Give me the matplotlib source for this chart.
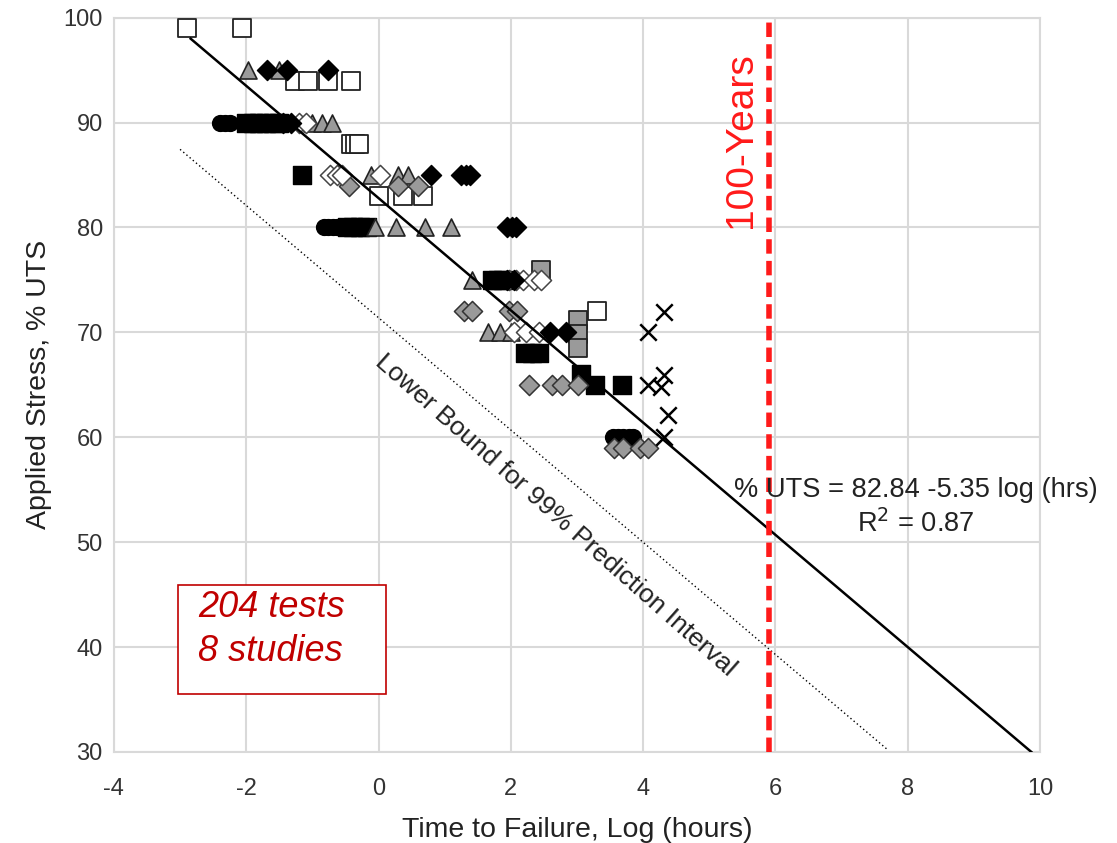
from matplotlib import pyplot as plt
from matplotlib.patches import Rectangle

plt.rcParams['font.family'] = ['Liberation Sans', 'DejaVu Sans']
plt.rcParams['axes.unicode_minus'] = False

# ---- data ----
# open squares
osq_x = [-2.89, -2.07, -1.26, -1.07, -0.76, -0.42, -0.41, -0.35, -0.29, 0.0, 0.37, 0.67, 3.31]
osq_y = [99, 99, 94, 94, 94, 94, 88, 88, 88, 83, 83, 83, 72]
# gray triangles
tri_x = [-1.98, -1.51, -1.00, -0.85, -0.70, -0.12, 0.29, 0.45, -0.05, 0.26, 0.71, 1.09, 1.41, 1.66, 1.83, 2.0]
tri_y = [95, 95, 90, 90, 90, 85, 85, 85, 80, 80, 80, 80, 75, 70, 70, 70]
# black diamonds
bd_x = [-1.68, -1.38, -0.77, -1.45, -1.32, 0.80, 1.25, 1.32, 1.39, 1.95, 2.02, 2.08, 1.95, 2.05, 2.60, 2.83]
bd_y = [95, 95, 95, 90, 90, 85, 85, 85, 85, 80, 80, 80, 75, 75, 70, 70]
# black circles
bc_x = [-2.40, -2.32, -2.25, -0.83, -0.76, -0.69, -0.62, -0.55, 3.55, 3.62, 3.70, 3.78, 3.85]
bc_y = [90, 90, 90, 80, 80, 80, 80, 80, 60, 60, 60, 60, 60]
# black squares
bsq_x = [-2.0, -1.9, -1.8, -1.7, -1.6, -1.5, -1.15, -0.48, -0.38, -0.28, -0.18, 1.72, 1.80, 1.88,
         2.22, 2.32, 2.43, 3.06, 3.28, 3.68]
bsq_y = [90, 90, 90, 90, 90, 90, 85, 80, 80, 80, 80, 75, 75, 75, 68, 68, 68, 66, 65, 65]
# gray diamonds
gd_x = [-0.45, 0.30, 0.60, 1.30, 1.42, 1.98, 2.10, 2.27, 2.63, 2.78, 3.01, 3.56, 3.69, 3.96, 4.07]
gd_y = [84, 84, 84, 72, 72, 72, 72, 65, 65, 65, 65, 59, 59, 59, 59]
# open diamonds
od_x = [-1.20, -1.10, -0.73, -0.63, -0.55, 0.03, 1.98, 2.08, 2.18, 2.35, 2.45, 2.05, 2.23, 2.42]
od_y = [90, 90, 85, 85, 85, 85, 75, 75, 75, 75, 75, 70, 70, 70]
# gray squares
gsq_x = [2.45, 3.01, 3.01, 3.01]
gsq_y = [75.9, 71.2, 69.8, 68.5]
# crosses
cx_x = [4.31, 4.08, 4.31, 4.07, 4.27, 4.37, 4.31]
cx_y = [71.9, 70.0, 65.9, 65.0, 64.8, 62.1, 60.0]

# regression line and 99% lower bound (end points)
fit_x = [-2.84, 9.87]
fit_y = [98.0, 30.0]
low_x = [-3.0, 7.7]
low_y = [87.45, 30.2]
years100 = 5.9

fig = plt.figure(figsize=(11.17, 8.43), dpi=100)
ax = fig.add_axes([0.102, 0.108, 0.829, 0.871])

gray = '#9a9a9a'
ms = 160
ax.scatter(osq_x, osq_y, marker='s', s=ms, facecolor='white', edgecolor='#222222', linewidth=1.3, zorder=3)
ax.scatter(gsq_x, gsq_y, marker='s', s=ms, facecolor=gray, edgecolor='#222222', linewidth=1.3, zorder=3)
ax.scatter(bsq_x, bsq_y, marker='s', s=ms, facecolor='black', edgecolor='black', zorder=3)
ax.scatter(bc_x, bc_y, marker='o', s=130, facecolor='black', edgecolor='black', zorder=3)
ax.scatter(tri_x, tri_y, marker='^', s=150, facecolor=gray, edgecolor='#222222', linewidth=1.2, zorder=3)
ax.scatter(gd_x, gd_y, marker='D', s=105, facecolor=gray, edgecolor='#333333', linewidth=1.1, zorder=3)
ax.scatter(od_x, od_y, marker='D', s=105, facecolor='white', edgecolor='#444444', linewidth=1.1, zorder=3)
ax.scatter(bd_x, bd_y, marker='D', s=105, facecolor='black', edgecolor='black', zorder=3)
ax.scatter(cx_x, cx_y, marker='x', s=140, color='black', linewidth=1.8, zorder=3)

ax.plot(fit_x, fit_y, color='black', lw=1.8, zorder=4)
ax.plot(low_x, low_y, color='black', lw=1.0, ls=(0, (1, 2)), zorder=4)
ax.plot([years100, years100], [30, 100], color='#ff1a1a', lw=4, dashes=(2.6, 1.3), zorder=5)

ax.text(years100 - 0.42, 88.3, '100-Years', rotation=90, color='#ff1a1a', fontsize=28,
        ha='center', va='center')
ax.text(8.12, 55.0, '% UTS = 82.84 -5.35 log (hrs)', fontsize=19.6, ha='center', va='center',
        color='#222222', zorder=6)
ax.text(8.12, 51.8, 'R$^2$ = 0.87', fontsize=19.6, ha='center', va='center', color='#222222', zorder=6)
ax.text(2.68, 52.6, 'Lower Bound for 99% Prediction Interval', fontsize=19, rotation=-41.5,
        rotation_mode='anchor', ha='center', va='center', color='#222222')

ax.add_patch(Rectangle((-3.03, 35.5), 3.15, 10.4, facecolor='white', edgecolor='#c00000',
                       lw=1.2, zorder=2))
ax.text(-2.73, 43.8, '204 tests', fontsize=26, style='italic', color='#c00000', va='center')
ax.text(-2.73, 39.6, '8 studies', fontsize=26, style='italic', color='#c00000', va='center')

ax.set_xlim(-4, 10)
ax.set_ylim(30, 100)
ax.set_xticks(range(-4, 11, 2))
ax.set_yticks(range(30, 101, 10))
ax.tick_params(length=0, labelsize=17, labelcolor='#333333')
ax.tick_params(axis='x', pad=19)
ax.tick_params(axis='y', pad=8)
ax.grid(color='#d9d9d9', lw=1.5)
ax.set_axisbelow(True)
for s in ax.spines.values():
    s.set_color('#d9d9d9')
    s.set_linewidth(1.5)
ax.set_xlabel('Time to Failure, Log (hours)', fontsize=20.5, color='#222222', labelpad=12)
ax.set_ylabel('Applied Stress, % UTS', fontsize=20.5, color='#222222', labelpad=8)

fig.savefig('out.png')
